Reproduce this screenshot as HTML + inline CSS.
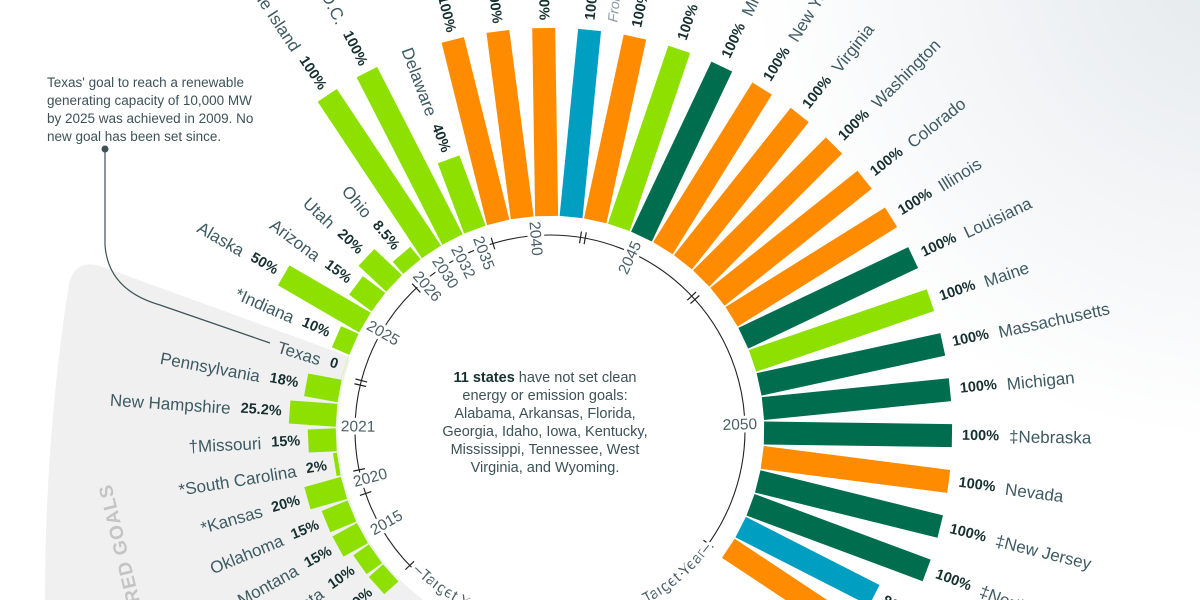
<!DOCTYPE html>
<html><head><meta charset="utf-8">
<style>
html,body{margin:0;padding:0;}
body{width:1200px;height:600px;overflow:hidden;background:#fff;}
svg{display:block;}
.n{font-family:"Liberation Sans",sans-serif;font-size:17px;fill:#3d5a62;}
.p{font-family:"Liberation Sans",sans-serif;font-size:14.5px;font-weight:bold;fill:#15302f;}
.y{font-family:"Liberation Sans",sans-serif;font-size:15.5px;fill:#4a5f66;stroke:#fff;stroke-width:6px;paint-order:stroke;}
.c{font-family:"Liberation Sans",sans-serif;font-size:14px;fill:#3d5257;}
</style></head><body>
<svg width="1200" height="600" viewBox="0 0 1200 600" xmlns="http://www.w3.org/2000/svg">
<defs>
<radialGradient id="bg" cx="1230" cy="-40" r="480" gradientUnits="userSpaceOnUse">
<stop offset="0" stop-color="#e4e9ec"/><stop offset="0.5" stop-color="#f2f4f6"/><stop offset="1" stop-color="#ffffff"/>
</radialGradient>
<path id="tp" d="M 412.7 570.5 A 200 200 0 0 0 711.8 547.6"/>
</defs>
<rect width="1200" height="600" fill="url(#bg)"/>
<path d="M345,355 L100,266 Q72,258 68,290 Q45,440 45,600 L600,600 Z" fill="#f0f0f0"/>
<circle cx="550" cy="430" r="212" fill="#fff"/>

<g class="c">
<text x="47" y="87" style="font-size:13.5px">Texas' goal to reach a renewable</text>
<text x="47" y="105" style="font-size:13.5px">generating capacity of 10,000 MW</text>
<text x="47" y="123" style="font-size:13.5px">by 2025 was achieved in 2009. No</text>
<text x="47" y="141" style="font-size:13.5px">new goal has been set since.</text>
</g>
<circle cx="105" cy="149" r="3.5" fill="#3d5257"/>
<path d="M105,149 L105,245 Q108,290 160,305 L270,343" fill="none" stroke="#3d5257" stroke-width="1.2"/>

<text transform="rotate(-103.7 111 483)" x="111" y="483" text-anchor="end" style="font-family:'Liberation Sans',sans-serif;font-weight:bold;font-size:19px;fill:#c4c4c4;letter-spacing:1px">EXPIRED GOALS</text>

<g>
<rect x="764" y="418.5" width="188" height="23" fill="#006d4f" transform="rotate(0.8 550 430)"/>
<rect x="764" y="418.5" width="188" height="23" fill="#ff8c00" transform="rotate(7.35 550 430)"/>
<rect x="764" y="418.5" width="188" height="23" fill="#006d4f" transform="rotate(13.9 550 430)"/>
<rect x="764" y="418.5" width="188" height="23" fill="#006d4f" transform="rotate(20.45 550 430)"/>
<rect x="764" y="418.5" width="150" height="23" fill="#009fc1" transform="rotate(27 550 430)"/>
<rect x="764" y="418.5" width="188" height="23" fill="#ff8c00" transform="rotate(33.55 550 430)"/>
<rect x="764" y="418.5" width="188" height="23" fill="#006d4f" transform="rotate(-5.75 550 430)"/>
<rect x="764" y="418.5" width="188" height="23" fill="#006d4f" transform="rotate(-12.3 550 430)"/>
<rect x="764" y="418.5" width="188" height="23" fill="#8ee000" transform="rotate(-18.85 550 430)"/>
<rect x="764" y="418.5" width="188" height="23" fill="#006d4f" transform="rotate(-25.4 550 430)"/>
<rect x="764" y="418.5" width="188" height="23" fill="#ff8c00" transform="rotate(-31.95 550 430)"/>
<rect x="764" y="418.5" width="188" height="23" fill="#ff8c00" transform="rotate(-38.5 550 430)"/>
<rect x="764" y="418.5" width="188" height="23" fill="#ff8c00" transform="rotate(-45.05 550 430)"/>
<rect x="764" y="418.5" width="188" height="23" fill="#ff8c00" transform="rotate(-51.6 550 430)"/>
<rect x="764" y="418.5" width="188" height="23" fill="#ff8c00" transform="rotate(-58.15 550 430)"/>
<rect x="764" y="418.5" width="188" height="23" fill="#006d4f" transform="rotate(-64.7 550 430)"/>
<rect x="764" y="418.5" width="188" height="23" fill="#8ee000" transform="rotate(-71.25 550 430)"/>
<rect x="764" y="418.5" width="188" height="23" fill="#ff8c00" transform="rotate(-77.8 550 430)"/>
<rect x="764" y="418.5" width="188" height="23" fill="#009fc1" transform="rotate(-84.35 550 430)"/>
<rect x="764" y="418.5" width="188" height="23" fill="#ff8c00" transform="rotate(-90.9 550 430)"/>
<rect x="764" y="418.5" width="188" height="23" fill="#ff8c00" transform="rotate(-97.45 550 430)"/>
<rect x="764" y="418.5" width="188" height="23" fill="#ff8c00" transform="rotate(-104 550 430)"/>
<rect x="764" y="418.5" width="75" height="23" fill="#8ee000" transform="rotate(-110.55 550 430)"/>
<rect x="764" y="418.5" width="188" height="23" fill="#8ee000" transform="rotate(-117.1 550 430)"/>
<rect x="764" y="418.5" width="188" height="23" fill="#8ee000" transform="rotate(-123.65 550 430)"/>
<rect x="764" y="418.5" width="16" height="23" fill="#8ee000" transform="rotate(-130.2 550 430)"/>
<rect x="764" y="418.5" width="38" height="23" fill="#8ee000" transform="rotate(-136.75 550 430)"/>
<rect x="764" y="418.5" width="28" height="23" fill="#8ee000" transform="rotate(-143.3 550 430)"/>
<rect x="764" y="418.5" width="94" height="23" fill="#8ee000" transform="rotate(-149.85 550 430)"/>
<rect x="764" y="418.5" width="19" height="23" fill="#8ee000" transform="rotate(-156.4 550 430)"/>
<rect x="764" y="418.5" width="1" height="23" fill="#d6f5a8" transform="rotate(-162.95 550 430)"/>
<rect x="764" y="418.5" width="34" height="23" fill="#8ee000" transform="rotate(-169.5 550 430)"/>
<rect x="764" y="418.5" width="47" height="23" fill="#8ee000" transform="rotate(-176.05 550 430)"/>
<rect x="764" y="418.5" width="28" height="23" fill="#8ee000" transform="rotate(-182.6 550 430)"/>
<rect x="764" y="418.5" width="4" height="23" fill="#8ee000" transform="rotate(-189.15 550 430)"/>
<rect x="764" y="418.5" width="38" height="23" fill="#8ee000" transform="rotate(-195.7 550 430)"/>
<rect x="764" y="418.5" width="28" height="23" fill="#8ee000" transform="rotate(-202.25 550 430)"/>
<rect x="764" y="418.5" width="28" height="23" fill="#8ee000" transform="rotate(-208.8 550 430)"/>
<rect x="764" y="418.5" width="19" height="23" fill="#8ee000" transform="rotate(-215.35 550 430)"/>
<rect x="764" y="418.5" width="19" height="23" fill="#8ee000" transform="rotate(-221.9 550 430)"/>
</g>

<g dominant-baseline="central">
<text x="962" y="430" transform="rotate(0.8 550 430)"><tspan class="p">100%</tspan><tspan class="n" dx="10">‡Nebraska</tspan></text>
<text x="962" y="430" transform="rotate(7.35 550 430)"><tspan class="p">100%</tspan><tspan class="n" dx="10">Nevada</tspan></text>
<text x="962" y="430" transform="rotate(13.9 550 430)"><tspan class="p">100%</tspan><tspan class="n" dx="10">‡New Jersey</tspan></text>
<text x="962" y="430" transform="rotate(20.45 550 430)"><tspan class="p">100%</tspan><tspan class="n" dx="10">‡North Carolina</tspan></text>
<text x="924" y="430" transform="rotate(27 550 430)"><tspan class="p">80%</tspan><tspan class="n" dx="10">Oregon</tspan></text>
<text x="962" y="430" transform="rotate(33.55 550 430)"><tspan class="p">100%</tspan><tspan class="n" dx="10">Vermont</tspan></text>
<text x="962" y="430" transform="rotate(-5.75 550 430)"><tspan class="p">100%</tspan><tspan class="n" dx="10">Michigan</tspan></text>
<text x="962" y="430" transform="rotate(-12.3 550 430)"><tspan class="p">100%</tspan><tspan class="n" dx="10">Massachusetts</tspan></text>
<text x="962" y="430" transform="rotate(-18.85 550 430)"><tspan class="p">100%</tspan><tspan class="n" dx="10">Maine</tspan></text>
<text x="962" y="430" transform="rotate(-25.4 550 430)"><tspan class="p">100%</tspan><tspan class="n" dx="10">Louisiana</tspan></text>
<text x="962" y="430" transform="rotate(-31.95 550 430)"><tspan class="p">100%</tspan><tspan class="n" dx="10">Illinois</tspan></text>
<text x="962" y="430" transform="rotate(-38.5 550 430)"><tspan class="p">100%</tspan><tspan class="n" dx="10">Colorado</tspan></text>
<text x="962" y="430" transform="rotate(-45.05 550 430)"><tspan class="p">100%</tspan><tspan class="n" dx="10">Washington</tspan></text>
<text x="962" y="430" transform="rotate(-51.6 550 430)"><tspan class="p">100%</tspan><tspan class="n" dx="10">Virginia</tspan></text>
<text x="962" y="430" transform="rotate(-58.15 550 430)"><tspan class="p">100%</tspan><tspan class="n" dx="10">New York</tspan></text>
<text x="962" y="430" transform="rotate(-64.7 550 430)"><tspan class="p">100%</tspan><tspan class="n" dx="10">Minnesota</tspan></text>
<text x="962" y="430" transform="rotate(-71.25 550 430)"><tspan class="p">100%</tspan><tspan class="n" dx="10">Hawaii</tspan></text>
<text x="962" y="430" transform="rotate(-77.8 550 430)"><tspan class="p">100%</tspan><tspan class="n" dx="10">Connecticut</tspan></text>
<text x="962" y="430" transform="rotate(-84.35 550 430)"><tspan class="p">100%</tspan><tspan class="n" dx="10">Maryland</tspan></text>
<text x="962" y="452" transform="rotate(-84.35 550 430)" style="font-family:'Liberation Sans',sans-serif;font-style:italic;font-size:14px;fill:#8a9aa0">From 2045</text>
</g>

<g dominant-baseline="central" text-anchor="end">
<text x="960" y="430" transform="rotate(-90.9 550 430) rotate(180 960 430)"><tspan class="n">California</tspan><tspan class="p" dx="10">100%</tspan></text>
<text x="960" y="430" transform="rotate(-97.45 550 430) rotate(180 960 430)"><tspan class="n">New Mexico</tspan><tspan class="p" dx="10">100%</tspan></text>
<text x="960" y="430" transform="rotate(-104 550 430) rotate(180 960 430)"><tspan class="n">Oregon</tspan><tspan class="p" dx="10">100%</tspan></text>
<text x="847" y="430" transform="rotate(-110.55 550 430) rotate(180 847 430)"><tspan class="n">Delaware</tspan><tspan class="p" dx="10">40%</tspan></text>
<text x="960" y="430" transform="rotate(-117.1 550 430) rotate(180 960 430)"><tspan class="n">Washington D.C.</tspan><tspan class="p" dx="10">100%</tspan></text>
<text x="960" y="430" transform="rotate(-123.65 550 430) rotate(180 960 430)"><tspan class="n">Rhode Island</tspan><tspan class="p" dx="10">100%</tspan></text>
<text x="788" y="430" transform="rotate(-130.2 550 430) rotate(180 788 430)"><tspan class="n">Ohio</tspan><tspan class="p" dx="10">8.5%</tspan></text>
<text x="810" y="430" transform="rotate(-136.75 550 430) rotate(180 810 430)"><tspan class="n">Utah</tspan><tspan class="p" dx="10">20%</tspan></text>
<text x="800" y="430" transform="rotate(-143.3 550 430) rotate(180 800 430)"><tspan class="n">Arizona</tspan><tspan class="p" dx="10">15%</tspan></text>
<text x="866" y="430" transform="rotate(-149.85 550 430) rotate(180 866 430)"><tspan class="n">Alaska</tspan><tspan class="p" dx="10">50%</tspan></text>
<text x="791" y="430" transform="rotate(-156.4 550 430) rotate(180 791 430)"><tspan class="n">*Indiana</tspan><tspan class="p" dx="10">10%</tspan></text>
<text x="772" y="430" transform="rotate(-162.95 550 430) rotate(180 772 430)"><tspan class="n">Texas</tspan><tspan class="p" dx="10">0</tspan></text>
<text x="806" y="430" transform="rotate(-169.5 550 430) rotate(180 806 430)"><tspan class="n">Pennsylvania</tspan><tspan class="p" dx="10">18%</tspan></text>
<text x="819" y="430" transform="rotate(-176.05 550 430) rotate(180 819 430)"><tspan class="n">New Hampshire</tspan><tspan class="p" dx="10">25.2%</tspan></text>
<text x="800" y="430" transform="rotate(-182.6 550 430) rotate(180 800 430)"><tspan class="n">†Missouri</tspan><tspan class="p" dx="10">15%</tspan></text>
<text x="776" y="430" transform="rotate(-189.15 550 430) rotate(180 776 430)"><tspan class="n">*South Carolina</tspan><tspan class="p" dx="10">2%</tspan></text>
<text x="810" y="430" transform="rotate(-195.7 550 430) rotate(180 810 430)"><tspan class="n">*Kansas</tspan><tspan class="p" dx="10">20%</tspan></text>
<text x="800" y="430" transform="rotate(-202.25 550 430) rotate(180 800 430)"><tspan class="n">Oklahoma</tspan><tspan class="p" dx="10">15%</tspan></text>
<text x="800" y="430" transform="rotate(-208.8 550 430) rotate(180 800 430)"><tspan class="n">Montana</tspan><tspan class="p" dx="10">15%</tspan></text>
<text x="791" y="430" transform="rotate(-215.35 550 430) rotate(180 791 430)"><tspan class="n">North Dakota</tspan><tspan class="p" dx="10">10%</tspan></text>
<text x="791" y="430" transform="rotate(-221.9 550 430) rotate(180 791 430)"><tspan class="n">Wisconsin</tspan><tspan class="p" dx="10">10%</tspan></text>
</g>

<circle cx="550" cy="430" r="195" fill="none" stroke="#222" stroke-width="1.1"/>
<g stroke="#222" stroke-width="1.2">
<line x1="739" y1="430" x2="751" y2="430" transform="rotate(-107 550 430)"/>
<line x1="739" y1="430" x2="751" y2="430" transform="rotate(-79.6 550 430)"/>
<line x1="739" y1="430" x2="751" y2="430" transform="rotate(-81 550 430)"/>
<line x1="739" y1="430" x2="751" y2="430" transform="rotate(-42 550 430)"/>
<line x1="739" y1="430" x2="751" y2="430" transform="rotate(-43.4 550 430)"/>
<line x1="739" y1="430" x2="751" y2="430" transform="rotate(-133.3 550 430)"/>
<line x1="739" y1="430" x2="751" y2="430" transform="rotate(-165.3 550 430)"/>
<line x1="739" y1="430" x2="751" y2="430" transform="rotate(-166.7 550 430)"/>
<line x1="739" y1="430" x2="751" y2="430" transform="rotate(168.2 550 430)"/>
<line x1="739" y1="430" x2="751" y2="430" transform="rotate(161 550 430)"/>
<line x1="739" y1="430" x2="751" y2="430" transform="rotate(136 550 430)"/>
<line x1="739" y1="430" x2="751" y2="430" transform="rotate(35.7 550 430)"/>
</g>
<g text-anchor="middle" dominant-baseline="central">
<text class="y" x="740" y="430" transform="rotate(-1.5 550 430)">2050</text>
<text class="y" x="740" y="430" transform="rotate(-65 550 430)">2045</text>
<text class="y" x="742" y="430" transform="rotate(-94.4 550 430) rotate(180 742 430)">2040</text>
<text class="y" x="739" y="430" transform="rotate(-110.7 550 430) rotate(180 739 430)">2035</text>
<text class="y" x="739" y="430" transform="rotate(-117.5 550 430) rotate(180 739 430)">2032</text>
<text class="y" x="739" y="430" transform="rotate(-123.8 550 430) rotate(180 739 430)">2030</text>
<text class="y" x="739" y="430" transform="rotate(-130.7 550 430) rotate(180 739 430)">2026</text>
<text class="y" x="743" y="430" transform="rotate(-150 550 430) rotate(180 743 430)">2025</text>
<text class="y" x="742" y="430" transform="rotate(-179.1 550 430) rotate(180 742 430)">2021</text>
<text class="y" x="736" y="430" transform="rotate(165 550 430) rotate(180 736 430)">2020</text>
<text class="y" x="738" y="430" transform="rotate(150.3 550 430) rotate(180 738 430)">2015</text>
</g>
<text class="y"><textPath href="#tp" startOffset="0">–Target Year</textPath></text>
<text class="y" text-anchor="end"><textPath href="#tp" startOffset="100%">Target Year–</textPath></text>

<g class="c" text-anchor="middle">
<text x="545" y="382" style="font-size:14.5px"><tspan font-weight="bold" fill="#15302f">11 states</tspan> have not set clean</text>
<text x="545" y="400" style="font-size:14.5px">energy or emission goals:</text>
<text x="545" y="418" style="font-size:14.5px">Alabama, Arkansas, Florida,</text>
<text x="545" y="436" style="font-size:14.5px">Georgia, Idaho, Iowa, Kentucky,</text>
<text x="545" y="454" style="font-size:14.5px">Mississippi, Tennessee, West</text>
<text x="545" y="472" style="font-size:14.5px">Virginia, and Wyoming.</text>
</g>
</svg>
</body></html>
